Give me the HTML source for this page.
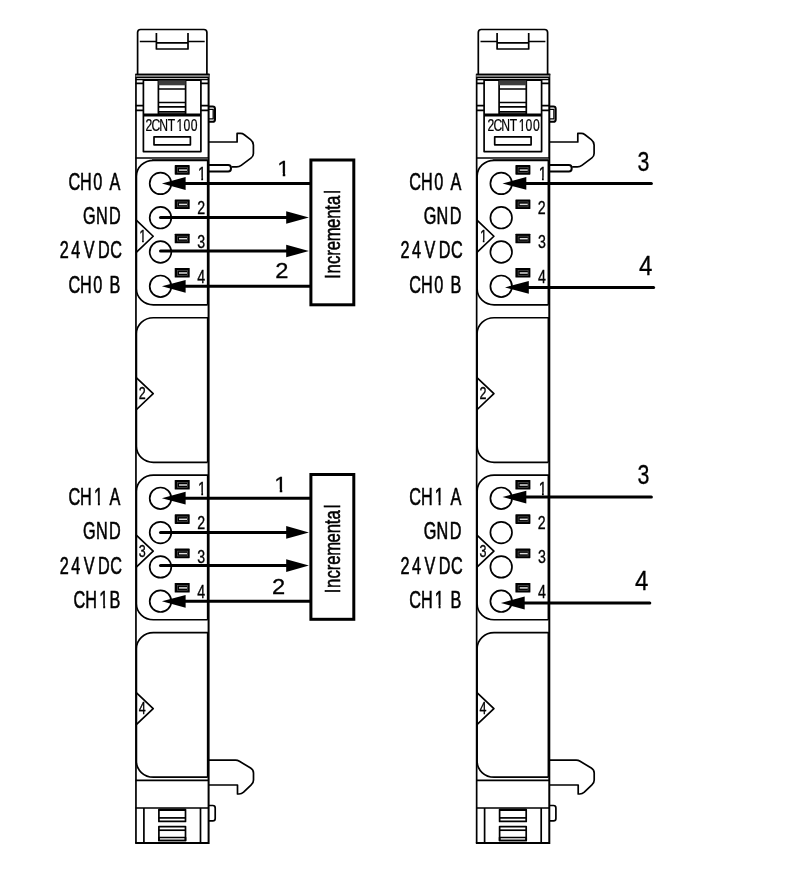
<!DOCTYPE html>
<html lang="en"><head><meta charset="utf-8"><title>2CNT100 wiring</title>
<style>html,body{margin:0;padding:0;background:#fff}body{width:800px;height:873px;overflow:hidden}svg{display:block;filter:grayscale(1)}text{font-family:"Liberation Sans",sans-serif;fill:#000}.s{stroke:#000;stroke-width:0.5px;vector-effect:non-scaling-stroke}.s2{stroke:#000;stroke-width:0.3px;vector-effect:non-scaling-stroke}.s3{stroke:#000;stroke-width:0.2px;vector-effect:non-scaling-stroke}.t{stroke:#000;stroke-width:1.7;fill:none;stroke-linejoin:round}.n{stroke:#000;stroke-width:1.3;fill:none}.o{stroke:#000;stroke-width:2;fill:none}.w{stroke:#000;stroke-width:3;fill:none}.wr{stroke:#000;stroke-width:3;fill:none;stroke-linecap:round}.b{stroke:#000;stroke-width:3;fill:none}</style></head><body>
<svg width="800" height="873" viewBox="0 0 800 873">
<rect width="800" height="873" fill="#fff"/>
<g>
<text class="s3" transform="translate(0 130.8) scale(0.78 1)" font-size="15.6" x="186.43 194.27 204.11 214.98 226.37 235.15 244.7" y="0">2CNT100</text>
<path d="M175.89 128.73H179.34V132.8H175.89ZM180.98 128.73H184.34V132.8H180.98Z" fill="#fff"/>
<text class="s2" transform="translate(0 241.95) scale(0.72 1)" font-size="17.4" x="193.39" y="0">1</text>
<path d="M138.6 239.75H142.11V243.95H138.6ZM143.78 239.75H147.2V243.95H143.78Z" fill="#fff"/>
<text class="s2" transform="translate(0 399.4) scale(0.72 1)" font-size="17.4" x="192.66" y="0">2</text>
<text class="s2" transform="translate(0 556.85) scale(0.72 1)" font-size="17.4" x="192.71" y="0">3</text>
<text class="s2" transform="translate(0 714.3) scale(0.72 1)" font-size="17.4" x="192.72" y="0">4</text>
<text class="s2" transform="translate(0 179.7) scale(0.78 1)" font-size="18.2" x="253.81" y="0">1</text>
<path d="M197.46 177.44H201.27V181.7H197.46ZM203.08 177.44H206.78V181.7H203.08Z" fill="#fff"/>
<text class="s2" transform="translate(0 214) scale(0.78 1)" font-size="18.2" x="252.76" y="0">2</text>
<text class="s2" transform="translate(0 248.3) scale(0.78 1)" font-size="18.2" x="252.81" y="0">3</text>
<text class="s2" transform="translate(0 282.6) scale(0.78 1)" font-size="18.2" x="252.82" y="0">4</text>
<text class="s2" transform="translate(0 494.6) scale(0.78 1)" font-size="18.2" x="253.81" y="0">1</text>
<path d="M197.46 492.34H201.27V496.6H197.46ZM203.08 492.34H206.78V496.6H203.08Z" fill="#fff"/>
<text class="s2" transform="translate(0 528.9) scale(0.78 1)" font-size="18.2" x="252.76" y="0">2</text>
<text class="s2" transform="translate(0 563.2) scale(0.78 1)" font-size="18.2" x="252.81" y="0">3</text>
<text class="s2" transform="translate(0 597.5) scale(0.78 1)" font-size="18.2" x="252.82" y="0">4</text>
<text class="s" transform="translate(0 190) scale(0.66 1)" font-size="24.6" x="103.61 121.19 141.19 154.87 165.81" y="0">CH0 A</text>
<text class="s" transform="translate(0 224) scale(0.66 1)" font-size="24.6" x="125.96 145.28 165.32" y="0">GND</text>
<text class="s" transform="translate(0 258.2) scale(0.66 1)" font-size="24.6" x="90.66 108.01 121.69 127.02 143.43 148.65 167.1" y="0">24 V DC</text>
<text class="s" transform="translate(0 292.5) scale(0.66 1)" font-size="24.6" x="103.61 121.19 141.19 154.87 166.06" y="0">CH0 B</text>
<text class="s" transform="translate(0 505) scale(0.66 1)" font-size="24.6" x="103.61 121.19 142.55 156.23 165.81" y="0">CH1 A</text>
<path d="M93.72 502.26H97.89V507H93.72ZM99.88 502.26H103.92V507H99.88Z" fill="#fff"/>
<text class="s" transform="translate(0 539.2) scale(0.66 1)" font-size="24.6" x="125.96 145.28 165.32" y="0">GND</text>
<text class="s" transform="translate(0 573.5) scale(0.66 1)" font-size="24.6" x="90.66 108.01 121.69 127.02 143.43 148.65 167.1" y="0">24 V DC</text>
<text class="s" transform="translate(0 607.7) scale(0.66 1)" font-size="24.6" x="111.42 129.37 150.58 166.06" y="0">CH1B</text>
<path d="M99.02 604.96H103.19V609.7H99.02ZM105.18 604.96H109.22V609.7H105.18Z" fill="#fff"/>
<g transform="translate(340.7 0)"><text class="s3" transform="translate(0 130.8) scale(0.78 1)" font-size="15.6" x="188.23 196.06 205.9 216.78 228.16 236.94 246.5" y="0">2CNT100</text>
<path d="M177.29 128.73H180.74V132.8H177.29ZM182.38 128.73H185.74V132.8H182.38Z" fill="#fff"/>
</g>
<g transform="translate(340.7 0)"><text class="s2" transform="translate(0 241.95) scale(0.72 1)" font-size="17.4" x="193.39" y="0">1</text>
<path d="M138.6 239.75H142.11V243.95H138.6ZM143.78 239.75H147.2V243.95H143.78Z" fill="#fff"/>
</g>
<g transform="translate(340.7 0)"><text class="s2" transform="translate(0 399.4) scale(0.72 1)" font-size="17.4" x="192.66" y="0">2</text>
</g>
<g transform="translate(340.7 0)"><text class="s2" transform="translate(0 556.85) scale(0.72 1)" font-size="17.4" x="192.71" y="0">3</text>
</g>
<g transform="translate(340.7 0)"><text class="s2" transform="translate(0 714.3) scale(0.72 1)" font-size="17.4" x="192.72" y="0">4</text>
</g>
<g transform="translate(340.7 0)"><text class="s2" transform="translate(0 179.7) scale(0.78 1)" font-size="18.2" x="253.81" y="0">1</text>
<path d="M197.46 177.44H201.27V181.7H197.46ZM203.08 177.44H206.78V181.7H203.08Z" fill="#fff"/>
</g>
<g transform="translate(340.7 0)"><text class="s2" transform="translate(0 214) scale(0.78 1)" font-size="18.2" x="252.76" y="0">2</text>
</g>
<g transform="translate(340.7 0)"><text class="s2" transform="translate(0 248.3) scale(0.78 1)" font-size="18.2" x="252.81" y="0">3</text>
</g>
<g transform="translate(340.7 0)"><text class="s2" transform="translate(0 282.6) scale(0.78 1)" font-size="18.2" x="252.82" y="0">4</text>
</g>
<g transform="translate(340.7 0)"><text class="s2" transform="translate(0 494.6) scale(0.78 1)" font-size="18.2" x="253.81" y="0">1</text>
<path d="M197.46 492.34H201.27V496.6H197.46ZM203.08 492.34H206.78V496.6H203.08Z" fill="#fff"/>
</g>
<g transform="translate(340.7 0)"><text class="s2" transform="translate(0 528.9) scale(0.78 1)" font-size="18.2" x="252.76" y="0">2</text>
</g>
<g transform="translate(340.7 0)"><text class="s2" transform="translate(0 563.2) scale(0.78 1)" font-size="18.2" x="252.81" y="0">3</text>
</g>
<g transform="translate(340.7 0)"><text class="s2" transform="translate(0 597.5) scale(0.78 1)" font-size="18.2" x="252.82" y="0">4</text>
</g>
<g transform="translate(340.7 0)"><text class="s" transform="translate(0 190) scale(0.66 1)" font-size="24.6" x="104.07 121.64 141.64 155.33 166.27" y="0">CH0 A</text>
</g>
<g transform="translate(340.7 0)"><text class="s" transform="translate(0 224) scale(0.66 1)" font-size="24.6" x="125.96 145.28 165.32" y="0">GND</text>
</g>
<g transform="translate(340.7 0)"><text class="s" transform="translate(0 258.2) scale(0.66 1)" font-size="24.6" x="90.66 108.01 121.69 127.02 143.43 148.65 167.1" y="0">24 V DC</text>
</g>
<g transform="translate(340.7 0)"><text class="s" transform="translate(0 292.5) scale(0.66 1)" font-size="24.6" x="104.07 121.64 141.64 155.33 166.51" y="0">CH0 B</text>
</g>
<g transform="translate(340.7 0)"><text class="s" transform="translate(0 505) scale(0.66 1)" font-size="24.6" x="104.07 121.64 142.55 156.23 166.27" y="0">CH1 A</text>
<path d="M93.72 502.26H97.89V507H93.72ZM99.88 502.26H103.92V507H99.88Z" fill="#fff"/>
</g>
<g transform="translate(340.7 0)"><text class="s" transform="translate(0 539.2) scale(0.66 1)" font-size="24.6" x="125.96 145.28 165.32" y="0">GND</text>
</g>
<g transform="translate(340.7 0)"><text class="s" transform="translate(0 573.5) scale(0.66 1)" font-size="24.6" x="90.66 108.01 121.69 127.02 143.43 148.65 167.1" y="0">24 V DC</text>
</g>
<g transform="translate(340.7 0)"><text class="s" transform="translate(0 607.7) scale(0.66 1)" font-size="24.6" x="104.07 121.64 142.55 156.23 166.51" y="0">CH1 B</text>
<path d="M93.72 604.96H97.89V609.7H93.72ZM99.88 604.96H103.92V609.7H99.88Z" fill="#fff"/>
</g>
<text class="s2" transform="translate(0 175.6) scale(1.0 1)" font-size="22.6" x="277.32" y="0">1</text>
<path d="M277.44 173.01H282.72V177.6H277.44ZM285.28 173.01H290.39V177.6H285.28Z" fill="#fff"/>
<text class="s2" transform="translate(0 278) scale(1.05 1)" font-size="22.6" x="262.1" y="0">2</text>
<text class="s" transform="translate(340.2 277.5) rotate(-90) scale(0.74 1)" font-size="22.6" x="-1.59 5.32 18.15 29.32 36.71 49.03 66.85 79.24 91.64 98.1 113.23" y="0">Incremental</text>
<text class="s2" transform="translate(0 491.8) scale(1.0 1)" font-size="22.6" x="274.32" y="0">1</text>
<path d="M274.44 489.21H279.72V493.8H274.44ZM282.28 489.21H287.39V493.8H282.28Z" fill="#fff"/>
<text class="s2" transform="translate(0 594.3) scale(1.05 1)" font-size="22.6" x="259.05" y="0">2</text>
<text class="s" transform="translate(340.2 592) rotate(-90) scale(0.74 1)" font-size="22.6" x="-1.59 5.32 18.15 29.32 36.71 49.03 66.85 79.24 91.64 98.1 113.23" y="0">Incremental</text>
<text class="s2" transform="translate(0 170.8) scale(0.768 1)" font-size="27.8" x="829.92" y="0">3</text>
<text class="s2" transform="translate(0 274.8) scale(0.864 1)" font-size="27.8" x="739.52" y="0">4</text>
<text class="s2" transform="translate(0 484.3) scale(0.768 1)" font-size="27.8" x="829.92" y="0">3</text>
<text class="s2" transform="translate(0 590.1) scale(0.864 1)" font-size="27.8" x="734.89" y="0">4</text>
</g>
<g transform="translate(0.0 0)">
<path d="M137.6 74.5V32.5Q137.6 29.5 140.6 29.5H203.9Q206.9 29.5 206.9 32.5V74.5" class="t"/>
<path d="M139.8 41.5H156.4M188 41.5H204.7" class="n"/>
<path d="M156.4 33V49H188V33M156.4 42.9H188" class="t"/>
<path d="M135.95 74.5V843.1M135.15 74.5H209.6" class="t"/>
<path d="M208.6 73.7V844.1M135.15 843.1H208.6" class="o"/>
<rect x="135.6" y="74.5" width="73.15" height="3" fill="#777" stroke="none"/>
<path d="M135.6 74.4H208.75M135.6 77.6H208.75" class="n"/>
<path d="M143.4 79.6V151.6H200.9V79.6" class="t"/>
<path d="M135.6 79.6H208.75" class="n"/>
<path d="M143.4 80.4H200.9" class="n"/>
<path d="M135.6 83.4H143.4M135.6 105.6H143.4M135.6 110.3H143.4M200.9 83.4H208.75M200.9 105.6H208.75M200.9 110.3H208.75" class="t"/>
<rect x="158.4" y="80.5" width="27.2" height="33.5" class="t"/>
<rect x="158.4" y="80.3" width="27.2" height="5" fill="#3c3c3c" stroke="none"/>
<path d="M158.4 89H185.6M158.4 102.5H185.6M158.4 106.9H185.6M158.4 111.9H185.6" class="t"/>
<path d="M143.4 115H200.9" stroke="#000" stroke-width="2.8" fill="none"/>
<rect x="154" y="136.8" width="36.4" height="8" class="t"/>
<path d="M208.75 106.4H212.6Q215 106.4 215 108.8V119.4Q215 121.8 212.6 121.8H208.75" class="o"/>
<path d="M208.75 109.4H213.2V118.8H208.75" class="n"/>
<path d="M208.75 142H237.1V133.4H240.5Q242.6 133.4 244.3 134.7L250.6 139.6Q253.4 141.8 253.4 145V153.6Q253.4 156.4 251.2 157.9L241.2 165.4Q239.2 166.9 236.6 166.9H231.5" class="t"/>
<path d="M208.75 164.9H228.2Q231 164.9 231 168.2Q231 171.5 228.2 171.5H208.75" class="o" stroke-width="1.8"/>
<path d="M135.6 158H208.75" class="t"/>
<rect x="152" y="158.4" width="56" height="1.9" fill="#555" stroke="none"/>
<path d="M207.7 304.85V160.3H153.4A17 16 0 0 0 136.4 176.3V288.85A17 16 0 0 0 153.4 304.85H207.7" class="t"/>
<path d="M136 219.95L153.2 236.25L136 252.55" class="t" stroke-linejoin="miter"/>
<path d="M207.7 462.3V317.75H153.4A17 16 0 0 0 136.4 333.75V446.3A17 16 0 0 0 153.4 462.3H207.7" class="t"/>
<path d="M136 377.4L153.2 393.7L136 410" class="t" stroke-linejoin="miter"/>
<path d="M207.7 619.75V475.2H153.4A17 16 0 0 0 136.4 491.2V603.75A17 16 0 0 0 153.4 619.75H207.7" class="t"/>
<path d="M136 534.85L153.2 551.15L136 567.45" class="t" stroke-linejoin="miter"/>
<path d="M207.7 777.2V632.65H153.4A17 16 0 0 0 136.4 648.65V761.2A17 16 0 0 0 153.4 777.2H207.7" class="t"/>
<path d="M136 692.3L153.2 708.6L136 724.9" class="t" stroke-linejoin="miter"/>
<circle cx="160.5" cy="183.4" r="10.8" class="t"/>
<rect x="174.7" y="165.1" width="15" height="9.6" rx="0.6" fill="#000"/>
<rect x="177.4" y="167.6" width="10" height="4.9" fill="none" stroke="#555" stroke-width="0.7"/>
<path d="M179 170.1H187" stroke="#ddd" stroke-width="1.5"/>
<circle cx="160.5" cy="217.7" r="10.8" class="t"/>
<rect x="174.7" y="199.4" width="15" height="9.6" rx="0.6" fill="#000"/>
<rect x="177.4" y="201.9" width="10" height="4.9" fill="none" stroke="#555" stroke-width="0.7"/>
<path d="M179 204.4H187" stroke="#ddd" stroke-width="1.5"/>
<circle cx="160.5" cy="252" r="10.8" class="t"/>
<rect x="174.7" y="233.7" width="15" height="9.6" rx="0.6" fill="#000"/>
<rect x="177.4" y="236.2" width="10" height="4.9" fill="none" stroke="#555" stroke-width="0.7"/>
<path d="M179 238.7H187" stroke="#ddd" stroke-width="1.5"/>
<circle cx="160.5" cy="286.3" r="10.8" class="t"/>
<rect x="174.7" y="268" width="15" height="9.6" rx="0.6" fill="#000"/>
<rect x="177.4" y="270.5" width="10" height="4.9" fill="none" stroke="#555" stroke-width="0.7"/>
<path d="M179 273H187" stroke="#ddd" stroke-width="1.5"/>
<circle cx="160.5" cy="498.3" r="10.8" class="t"/>
<rect x="174.7" y="480" width="15" height="9.6" rx="0.6" fill="#000"/>
<rect x="177.4" y="482.5" width="10" height="4.9" fill="none" stroke="#555" stroke-width="0.7"/>
<path d="M179 485H187" stroke="#ddd" stroke-width="1.5"/>
<circle cx="160.5" cy="532.6" r="10.8" class="t"/>
<rect x="174.7" y="514.3" width="15" height="9.6" rx="0.6" fill="#000"/>
<rect x="177.4" y="516.8" width="10" height="4.9" fill="none" stroke="#555" stroke-width="0.7"/>
<path d="M179 519.3H187" stroke="#ddd" stroke-width="1.5"/>
<circle cx="160.5" cy="566.9" r="10.8" class="t"/>
<rect x="174.7" y="548.6" width="15" height="9.6" rx="0.6" fill="#000"/>
<rect x="177.4" y="551.1" width="10" height="4.9" fill="none" stroke="#555" stroke-width="0.7"/>
<path d="M179 553.6H187" stroke="#ddd" stroke-width="1.5"/>
<circle cx="160.5" cy="601.2" r="10.8" class="t"/>
<rect x="174.7" y="582.9" width="15" height="9.6" rx="0.6" fill="#000"/>
<rect x="177.4" y="585.4" width="10" height="4.9" fill="none" stroke="#555" stroke-width="0.7"/>
<path d="M179 587.9H187" stroke="#ddd" stroke-width="1.5"/>
<path d="M135.6 780.4H208.75M135.6 808H208.75" class="t"/>
<path d="M143.9 808V843.1M200.5 808V843.1" class="t"/>
<rect x="158.9" y="809.6" width="26.6" height="11.8" class="t"/>
<path d="M158.9 809.9H185.5" stroke="#000" stroke-width="2.2"/>
<path d="M158.9 817.9H185.5" class="t"/>
<rect x="158.9" y="826.6" width="26.6" height="13.9" class="t"/>
<rect x="158.9" y="837.5" width="26.6" height="3" fill="#888" class="t"/>
<path d="M158.9 830.2H185.5" class="t"/>
<path d="M208.75 805.5H212.8Q215.2 805.5 215.2 807.9V818.4Q215.2 820.8 212.8 820.8H208.75" class="t"/>
<path d="M208.75 760.2H235.5Q237.6 760.2 239.4 761.3L250.6 768Q253.5 769.8 253.5 773V780Q253.5 783 251.2 784.9L243.6 792.2Q241.6 794 239 794H237.5V785H208.75" class="t"/>
</g>
<g transform="translate(340.7 0)">
<path d="M137.6 74.5V32.5Q137.6 29.5 140.6 29.5H203.9Q206.9 29.5 206.9 32.5V74.5" class="t"/>
<path d="M139.8 41.5H156.4M188 41.5H204.7" class="n"/>
<path d="M156.4 33V49H188V33M156.4 42.9H188" class="t"/>
<path d="M135.95 74.5V843.1M135.15 74.5H209.6" class="t"/>
<path d="M208.6 73.7V844.1M135.15 843.1H208.6" class="o"/>
<rect x="135.6" y="74.5" width="73.15" height="3" fill="#777" stroke="none"/>
<path d="M135.6 74.4H208.75M135.6 77.6H208.75" class="n"/>
<path d="M143.4 79.6V151.6H200.9V79.6" class="t"/>
<path d="M135.6 79.6H208.75" class="n"/>
<path d="M143.4 80.4H200.9" class="n"/>
<path d="M135.6 83.4H143.4M135.6 105.6H143.4M135.6 110.3H143.4M200.9 83.4H208.75M200.9 105.6H208.75M200.9 110.3H208.75" class="t"/>
<rect x="158.4" y="80.5" width="27.2" height="33.5" class="t"/>
<rect x="158.4" y="80.3" width="27.2" height="5" fill="#3c3c3c" stroke="none"/>
<path d="M158.4 89H185.6M158.4 102.5H185.6M158.4 106.9H185.6M158.4 111.9H185.6" class="t"/>
<path d="M143.4 115H200.9" stroke="#000" stroke-width="2.8" fill="none"/>
<rect x="154" y="136.8" width="36.4" height="8" class="t"/>
<path d="M208.75 106.4H212.6Q215 106.4 215 108.8V119.4Q215 121.8 212.6 121.8H208.75" class="o"/>
<path d="M208.75 109.4H213.2V118.8H208.75" class="n"/>
<path d="M208.75 142H237.1V133.4H240.5Q242.6 133.4 244.3 134.7L250.6 139.6Q253.4 141.8 253.4 145V153.6Q253.4 156.4 251.2 157.9L241.2 165.4Q239.2 166.9 236.6 166.9H231.5" class="t"/>
<path d="M208.75 164.9H228.2Q231 164.9 231 168.2Q231 171.5 228.2 171.5H208.75" class="o" stroke-width="1.8"/>
<path d="M135.6 158H208.75" class="t"/>
<rect x="152" y="158.4" width="56" height="1.9" fill="#555" stroke="none"/>
<path d="M207.7 304.85V160.3H153.4A17 16 0 0 0 136.4 176.3V288.85A17 16 0 0 0 153.4 304.85H207.7" class="t"/>
<path d="M136 219.95L153.2 236.25L136 252.55" class="t" stroke-linejoin="miter"/>
<path d="M207.7 462.3V317.75H153.4A17 16 0 0 0 136.4 333.75V446.3A17 16 0 0 0 153.4 462.3H207.7" class="t"/>
<path d="M136 377.4L153.2 393.7L136 410" class="t" stroke-linejoin="miter"/>
<path d="M207.7 619.75V475.2H153.4A17 16 0 0 0 136.4 491.2V603.75A17 16 0 0 0 153.4 619.75H207.7" class="t"/>
<path d="M136 534.85L153.2 551.15L136 567.45" class="t" stroke-linejoin="miter"/>
<path d="M207.7 777.2V632.65H153.4A17 16 0 0 0 136.4 648.65V761.2A17 16 0 0 0 153.4 777.2H207.7" class="t"/>
<path d="M136 692.3L153.2 708.6L136 724.9" class="t" stroke-linejoin="miter"/>
<circle cx="160.5" cy="183.4" r="10.8" class="t"/>
<rect x="174.7" y="165.1" width="15" height="9.6" rx="0.6" fill="#000"/>
<rect x="177.4" y="167.6" width="10" height="4.9" fill="none" stroke="#555" stroke-width="0.7"/>
<path d="M179 170.1H187" stroke="#ddd" stroke-width="1.5"/>
<circle cx="160.5" cy="217.7" r="10.8" class="t"/>
<rect x="174.7" y="199.4" width="15" height="9.6" rx="0.6" fill="#000"/>
<rect x="177.4" y="201.9" width="10" height="4.9" fill="none" stroke="#555" stroke-width="0.7"/>
<path d="M179 204.4H187" stroke="#ddd" stroke-width="1.5"/>
<circle cx="160.5" cy="252" r="10.8" class="t"/>
<rect x="174.7" y="233.7" width="15" height="9.6" rx="0.6" fill="#000"/>
<rect x="177.4" y="236.2" width="10" height="4.9" fill="none" stroke="#555" stroke-width="0.7"/>
<path d="M179 238.7H187" stroke="#ddd" stroke-width="1.5"/>
<circle cx="160.5" cy="286.3" r="10.8" class="t"/>
<rect x="174.7" y="268" width="15" height="9.6" rx="0.6" fill="#000"/>
<rect x="177.4" y="270.5" width="10" height="4.9" fill="none" stroke="#555" stroke-width="0.7"/>
<path d="M179 273H187" stroke="#ddd" stroke-width="1.5"/>
<circle cx="160.5" cy="498.3" r="10.8" class="t"/>
<rect x="174.7" y="480" width="15" height="9.6" rx="0.6" fill="#000"/>
<rect x="177.4" y="482.5" width="10" height="4.9" fill="none" stroke="#555" stroke-width="0.7"/>
<path d="M179 485H187" stroke="#ddd" stroke-width="1.5"/>
<circle cx="160.5" cy="532.6" r="10.8" class="t"/>
<rect x="174.7" y="514.3" width="15" height="9.6" rx="0.6" fill="#000"/>
<rect x="177.4" y="516.8" width="10" height="4.9" fill="none" stroke="#555" stroke-width="0.7"/>
<path d="M179 519.3H187" stroke="#ddd" stroke-width="1.5"/>
<circle cx="160.5" cy="566.9" r="10.8" class="t"/>
<rect x="174.7" y="548.6" width="15" height="9.6" rx="0.6" fill="#000"/>
<rect x="177.4" y="551.1" width="10" height="4.9" fill="none" stroke="#555" stroke-width="0.7"/>
<path d="M179 553.6H187" stroke="#ddd" stroke-width="1.5"/>
<circle cx="160.5" cy="601.2" r="10.8" class="t"/>
<rect x="174.7" y="582.9" width="15" height="9.6" rx="0.6" fill="#000"/>
<rect x="177.4" y="585.4" width="10" height="4.9" fill="none" stroke="#555" stroke-width="0.7"/>
<path d="M179 587.9H187" stroke="#ddd" stroke-width="1.5"/>
<path d="M135.6 780.4H208.75M135.6 808H208.75" class="t"/>
<path d="M143.9 808V843.1M200.5 808V843.1" class="t"/>
<rect x="158.9" y="809.6" width="26.6" height="11.8" class="t"/>
<path d="M158.9 809.9H185.5" stroke="#000" stroke-width="2.2"/>
<path d="M158.9 817.9H185.5" class="t"/>
<rect x="158.9" y="826.6" width="26.6" height="13.9" class="t"/>
<rect x="158.9" y="837.5" width="26.6" height="3" fill="#888" class="t"/>
<path d="M158.9 830.2H185.5" class="t"/>
<path d="M208.75 805.5H212.8Q215.2 805.5 215.2 807.9V818.4Q215.2 820.8 212.8 820.8H208.75" class="t"/>
<path d="M208.75 760.2H235.5Q237.6 760.2 239.4 761.3L250.6 768Q253.5 769.8 253.5 773V780Q253.5 783 251.2 784.9L243.6 792.2Q241.6 794 239 794H237.5V785H208.75" class="t"/>
</g>
<rect x="310.9" y="160" width="42.9" height="144.8" class="b"/>
<path d="M180 183.5H310" class="w"/>
<path d="M161.9 183.5L185.6 177.1V189.9Z" fill="#000"/>
<path d="M160.5 217.5H290" class="wr"/>
<path d="M308.9 217.5L286.2 211.2V223.8Z" fill="#000"/>
<path d="M160.5 251H290" class="wr"/>
<path d="M308.9 251L286.2 244.7V257.3Z" fill="#000"/>
<path d="M180 286.3H310" class="w"/>
<path d="M161.9 286.3L185.6 279.9V292.7Z" fill="#000"/>
<rect x="310.9" y="474.5" width="42.9" height="144.8" class="b"/>
<path d="M180 498.2H310" class="w"/>
<path d="M161.9 498.2L185.6 491.8V504.6Z" fill="#000"/>
<path d="M160.5 532.4H290" class="wr"/>
<path d="M308.9 532.4L286.2 526.1V538.7Z" fill="#000"/>
<path d="M160.5 565.6H290" class="wr"/>
<path d="M308.9 565.6L286.2 559.3V571.9Z" fill="#000"/>
<path d="M180 601.3H310" class="w"/>
<path d="M161.9 601.3L185.6 594.9V607.7Z" fill="#000"/>
<path d="M524.3 183.45H651.4" class="wr"/>
<path d="M502.5 183.45L526.3 177.05V189.85Z" fill="#000"/>
<path d="M526.8 287.4H653.6" class="wr"/>
<path d="M505 287.4L528.8 281V293.8Z" fill="#000"/>
<path d="M524.3 497.1H651.4" class="wr"/>
<path d="M502.5 497.1L526.3 490.7V503.5Z" fill="#000"/>
<path d="M522.7 603H649.8" class="wr"/>
<path d="M500.9 603L524.7 596.6V609.4Z" fill="#000"/>
</svg></body></html>
